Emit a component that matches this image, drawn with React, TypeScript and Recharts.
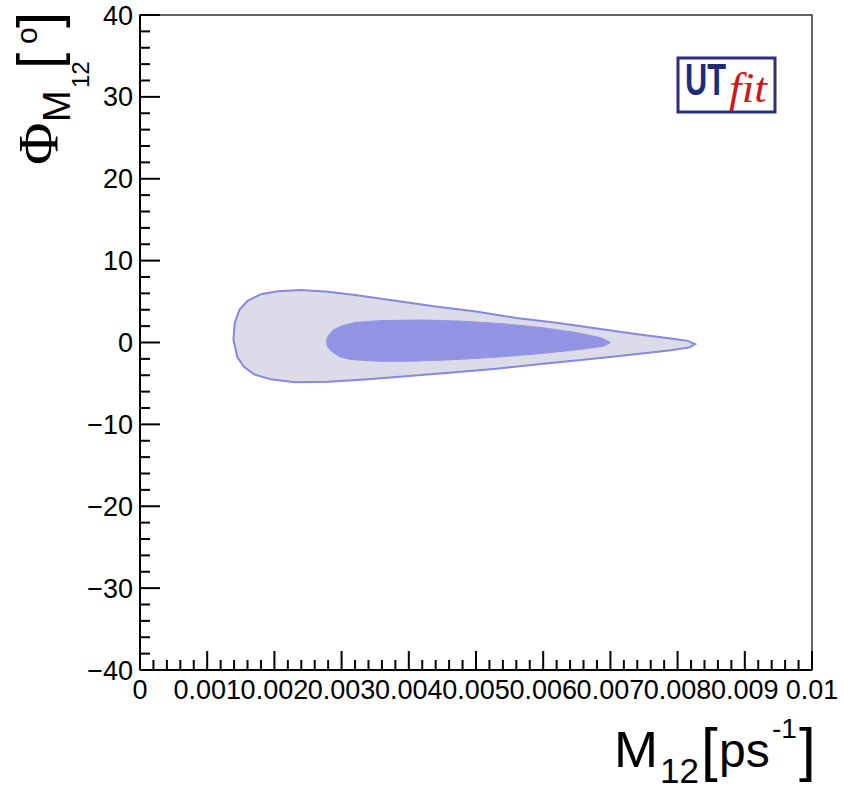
import { ScatterChart, Scatter, XAxis, YAxis, ReferenceArea } from "recharts";

// axis ticks (ROOT style: majors labelled, minors in between)
const X_MAJOR = [0, 0.001, 0.002, 0.003, 0.004, 0.005, 0.006, 0.007, 0.008, 0.009, 0.01];
const X_LABELS = ["0", "0.001", "0.002", "0.003", "0.004", "0.005", "0.006", "0.007", "0.008", "0.009", "0.01"];
const X_DIVISIONS = 5;

const Y_MAJOR = [-40, -30, -20, -10, 0, 10, 20, 30, 40];
const Y_LABELS = ["\u221240", "\u221230", "\u221220", "\u221210", "0", "10", "20", "30", "40"];
const Y_DIVISIONS = 5;

// 95% probability contour (x = M12 [ps^-1], y = phi [deg])
const OUTER = [
  { x: 0.00139, y: 0.3 }, { x: 0.00141, y: 2.4 }, { x: 0.00148, y: 4.0 }, { x: 0.0016, y: 5.1 },
  { x: 0.0018, y: 5.9 }, { x: 0.00205, y: 6.25 }, { x: 0.0024, y: 6.4 }, { x: 0.0028, y: 6.2 },
  { x: 0.0032, y: 5.8 }, { x: 0.0038, y: 5.1 }, { x: 0.0044, y: 4.4 }, { x: 0.005, y: 3.8 },
  { x: 0.0056, y: 3.0 }, { x: 0.0062, y: 2.4 }, { x: 0.0068, y: 1.7 }, { x: 0.0074, y: 1.0 },
  { x: 0.0079, y: 0.5 }, { x: 0.00815, y: 0.2 }, { x: 0.00826, y: -0.2 }, { x: 0.00818, y: -0.6 },
  { x: 0.0079, y: -0.95 }, { x: 0.0072, y: -1.6 }, { x: 0.0066, y: -2.1 }, { x: 0.006, y: -2.6 },
  { x: 0.0053, y: -3.2 }, { x: 0.0046, y: -3.7 }, { x: 0.004, y: -4.1 }, { x: 0.0034, y: -4.5 },
  { x: 0.0028, y: -4.8 }, { x: 0.0023, y: -4.85 }, { x: 0.00195, y: -4.5 }, { x: 0.0017, y: -3.9 },
  { x: 0.00155, y: -3.0 }, { x: 0.00145, y: -1.8 },
];

// 68% probability contour
const INNER = [
  { x: 0.002775, y: 0.2 }, { x: 0.0028, y: 0.8 }, { x: 0.00287, y: 1.5 }, { x: 0.003, y: 2.03 },
  { x: 0.0032, y: 2.45 }, { x: 0.0036, y: 2.68 }, { x: 0.0042, y: 2.75 }, { x: 0.0048, y: 2.6 },
  { x: 0.0054, y: 2.3 }, { x: 0.006, y: 1.8 }, { x: 0.0065, y: 1.2 }, { x: 0.00685, y: 0.6 },
  { x: 0.007, y: 0.0 }, { x: 0.0069, y: -0.45 }, { x: 0.0065, y: -0.9 }, { x: 0.0059, y: -1.4 },
  { x: 0.0053, y: -1.8 }, { x: 0.00466, y: -2.1 }, { x: 0.0040, y: -2.3 }, { x: 0.0036, y: -2.3 },
  { x: 0.00315, y: -2.1 }, { x: 0.00298, y: -1.76 }, { x: 0.00286, y: -1.15 }, { x: 0.00279, y: -0.54 },
];

function withMinors(major: number[], divisions: number) {
  const out: number[] = [];
  for (let i = 0; i < major.length - 1; i++) {
    const step = (major[i + 1] - major[i]) / divisions;
    for (let k = 0; k < divisions; k++) out.push(k === 0 ? major[i] : major[i] + k * step);
  }
  out.push(major[major.length - 1]);
  return out;
}

const X_TICKS = withMinors(X_MAJOR, X_DIVISIONS);
const Y_TICKS = withMinors(Y_MAJOR, Y_DIVISIONS);
const X_LABEL_OF = new Map(X_MAJOR.map((v, i) => [v, X_LABELS[i]]));
const Y_LABEL_OF = new Map(Y_MAJOR.map((v, i) => [v, Y_LABELS[i]]));

const FONT = "'Liberation Sans', Arial, Helvetica, sans-serif";
const SERIF = "'Liberation Serif', 'DejaVu Serif', serif";
const TICK_FONT = 27;

const XTick = (props: any) => {
  const { x, y, payload } = props;
  const label = X_LABEL_OF.get(payload.value);
  const major = label !== undefined;
  return (
    <g>
      <line x1={x} x2={x} y1={y} y2={y - (major ? 19 : 10)} stroke="#000" strokeWidth={2} />
      {major && (
        <text x={x} y={y + 29} textAnchor="middle" fontFamily={FONT} fontSize={TICK_FONT} fill="#000">
          {label}
        </text>
      )}
    </g>
  );
};

const YTick = (props: any) => {
  const { x, y, payload } = props;
  const label = Y_LABEL_OF.get(payload.value);
  const major = label !== undefined;
  return (
    <g>
      <line x1={x} x2={x + (major ? 20 : 10)} y1={y} y2={y} stroke="#000" strokeWidth={2} />
      {major && (
        <text x={x - 7} y={y + 9.5} textAnchor="end" fontFamily={FONT} fontSize={TICK_FONT} fill="#000">
          {label}
        </text>
      )}
    </g>
  );
};

const hidden = () => <g />;

function Titles() {
  return (
    <svg width={844} height={790} style={{ position: "absolute", left: 0, top: 0, pointerEvents: "none" }}>
      {/* y title, rotated */}
      <g transform="translate(58,165) rotate(-90)" fill="#000">
        <text x={0} y={0} fontFamily={SERIF} fontSize={58}>Φ</text>
        <text x={43} y={12} fontFamily={FONT} fontSize={38}>M</text>
        <text x={77} y={31} fontFamily={FONT} fontSize={24}>12</text>
        <text x={96} y={0} fontFamily={FONT} fontSize={58}>[</text>
        <text x={121} y={-21} fontFamily={FONT} fontSize={30}>o</text>
        <text x={137} y={0} fontFamily={FONT} fontSize={58}>]</text>
      </g>
      {/* x title */}
      <g fill="#000" fontFamily={FONT}>
        <text x={614} y={767} fontSize={50} textLength={44} lengthAdjust="spacingAndGlyphs">M</text>
        <text x={660} y={783} fontSize={35}>12</text>
        <text x={701} y={770} fontSize={60}>[</text>
        <text x={719} y={767} fontSize={48}>ps</text>
        <text x={772} y={738} fontSize={28}>-1</text>
        <text x={799} y={770} fontSize={60}>]</text>
      </g>
      {/* UTfit logo */}
      <g>
        <rect x={678} y={58} width={97} height={54} fill="#fff" stroke="#2b2f80" strokeWidth={3} />
        <text x={685} y={95} fontFamily={FONT} fontWeight="bold" fontSize={44} fill="#1f2b78" textLength={41} lengthAdjust="spacingAndGlyphs">UT</text>
        <text x={729} y={102} fontFamily={SERIF} fontStyle="italic" fontSize={42} fill="#d0161c" textLength={38} lengthAdjust="spacingAndGlyphs">fit</text>
      </g>
    </svg>
  );
}

export default function App() {
  return (
    <div style={{ position: "absolute", left: 0, top: 0, width: 844, height: 790, background: "#fff" }}>
      <ScatterChart width={844} height={790} margin={{ top: 15, right: 32, left: 0, bottom: 0 }}>
        <XAxis
          type="number"
          dataKey="x"
          domain={[0, 0.01]}
          ticks={X_TICKS}
          interval={0}
          tickSize={0}
          tickMargin={0}
          tick={XTick}
          height={120}
          axisLine={{ stroke: "#000", strokeWidth: 2 }}
          allowDataOverflow
        />
        <YAxis
          type="number"
          dataKey="y"
          domain={[-40, 40]}
          ticks={Y_TICKS}
          interval={0}
          tickSize={0}
          tickMargin={0}
          tick={YTick}
          width={140}
          axisLine={{ stroke: "#000", strokeWidth: 2 }}
          allowDataOverflow
        />
        <Scatter
          data={OUTER}
          line={{ stroke: "#8787e2", strokeWidth: 2, fill: "#dcdce9" }}
          lineJointType="linearClosed"
          shape={hidden}
          isAnimationActive={false}
        />
        <Scatter
          data={INNER}
          line={{ stroke: "#9494e6", strokeWidth: 1, fill: "#9494e6" }}
          lineJointType="linearClosed"
          shape={hidden}
          isAnimationActive={false}
        />
        <ReferenceArea x1={0} x2={0.01} y1={-40} y2={40} fill="none" stroke="#333" strokeWidth={1.5} ifOverflow="visible" />
      </ScatterChart>
      <Titles />
    </div>
  );
}
